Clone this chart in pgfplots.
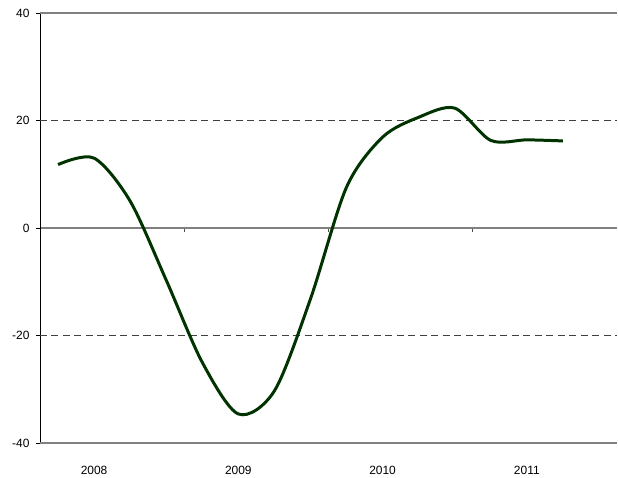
\documentclass[border=0pt]{standalone}
\usepackage{pgfplots}
\pgfplotsset{compat=1.18}
\usepackage{fontspec}
\setmainfont{Liberation Sans}
\definecolor{curve}{RGB}{0,51,0}
\definecolor{gridc}{RGB}{64,64,64}
\begin{document}
\begin{tikzpicture}
\begin{axis}[
  scale only axis, width=577bp, height=430bp,
  xmin=-0.5, xmax=15.5, ymin=-40, ymax=40,
  axis x line=middle, axis y line=left,
  axis line style={-},
  x axis line style={draw=gray, line width=1.5bp},
  y axis line style={draw=black, line width=0.9bp},
  xtick={3.5,7.5,11.5}, xticklabels={},
  x tick style={draw=black!70, line width=0.8bp},
  xtick align=outside,
  ytick={-40,-20,0,20,40},
  yticklabels={-40,-20,0,20,40},
  y tick style={draw=black, line width=0.8bp},
  ytick align=outside,
  major tick length=4bp,
  extra y ticks={-40,-20,20,40},
  extra y tick labels={},
  extra y tick style={grid=major, major tick length=0pt, grid style={draw=gridc, line width=0.8bp, dash pattern=on 7bp off 4.5bp}},
  tick label style={font=\fontsize{12}{14}\selectfont},
  yticklabel style={xshift=-3bp},
  clip=false,
]
\draw[gray, line width=1.2bp] (rel axis cs:0,0) -- (rel axis cs:1,0);
\draw[gray, line width=1.2bp] (rel axis cs:0,1) -- (rel axis cs:1,1);
\addplot[curve, line width=3bp, smooth, tension=0.5] coordinates {
(0,11.8) (1,13.0) (2,5.0) (3,-9.7) (4,-25.0) (5,-34.6) (6,-30.3) (7,-13.2)
(8,7.6) (9,16.9) (10,20.6) (11,22.3) (12,16.3) (13,16.4) (14,16.2)
};
\node[font=\fontsize{12}{14}\selectfont, yshift=-27bp] at (axis cs:1,-40) {2008};
\node[font=\fontsize{12}{14}\selectfont, yshift=-27bp] at (axis cs:5,-40) {2009};
\node[font=\fontsize{12}{14}\selectfont, yshift=-27bp] at (axis cs:9,-40) {2010};
\node[font=\fontsize{12}{14}\selectfont, yshift=-27bp] at (axis cs:13,-40) {2011};
\end{axis}
\path (-40bp,-34bp) rectangle (578bp,443bp);
\end{tikzpicture}
\end{document}
